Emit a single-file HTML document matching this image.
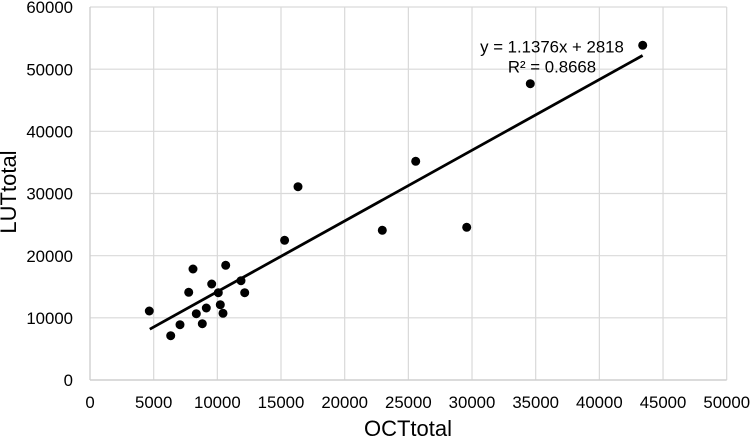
<!DOCTYPE html>
<html>
<head>
<meta charset="utf-8">
<style>
  html, body { margin: 0; padding: 0; background: #ffffff; }
  svg { display: block; }
  text { font-family: "Liberation Sans", Arial, sans-serif; fill: #000; }
</style>
</head>
<body>
<svg width="750" height="439" viewBox="0 0 750 439" xmlns="http://www.w3.org/2000/svg">
  <rect x="0" y="0" width="750" height="439" fill="#ffffff"/>
  <g stroke="#d9d9d9" stroke-width="1.2" fill="none">
    <line x1="153.67" y1="7" x2="153.67" y2="380"/>
    <line x1="217.34" y1="7" x2="217.34" y2="380"/>
    <line x1="281.01" y1="7" x2="281.01" y2="380"/>
    <line x1="344.68" y1="7" x2="344.68" y2="380"/>
    <line x1="408.35" y1="7" x2="408.35" y2="380"/>
    <line x1="472.02" y1="7" x2="472.02" y2="380"/>
    <line x1="535.69" y1="7" x2="535.69" y2="380"/>
    <line x1="599.36" y1="7" x2="599.36" y2="380"/>
    <line x1="663.03" y1="7" x2="663.03" y2="380"/>
    <line x1="726.7" y1="7" x2="726.7" y2="380"/>
    <line x1="90" y1="7" x2="726.7" y2="7"/>
    <line x1="90" y1="69.17" x2="726.7" y2="69.17"/>
    <line x1="90" y1="131.33" x2="726.7" y2="131.33"/>
    <line x1="90" y1="193.5" x2="726.7" y2="193.5"/>
    <line x1="90" y1="255.67" x2="726.7" y2="255.67"/>
    <line x1="90" y1="317.83" x2="726.7" y2="317.83"/>
  </g>
  <g stroke="#cfcfcf" stroke-width="1.4">
    <line x1="90" y1="7" x2="90" y2="380"/>
    <line x1="90" y1="380" x2="726.7" y2="380"/>
  </g>

  <g font-size="16.8" text-anchor="end">
    <text x="73" y="13.2">60000</text>
    <text x="73" y="75.4">50000</text>
    <text x="73" y="137.5">40000</text>
    <text x="73" y="199.7">30000</text>
    <text x="73" y="261.9">20000</text>
    <text x="73" y="324">10000</text>
    <text x="73" y="386.2">0</text>
  </g>
  <g font-size="16.8" text-anchor="middle">
    <text x="90" y="408">0</text>
    <text x="153.67" y="408">5000</text>
    <text x="217.34" y="408">10000</text>
    <text x="281.01" y="408">15000</text>
    <text x="344.68" y="408">20000</text>
    <text x="408.35" y="408">25000</text>
    <text x="472.02" y="408">30000</text>
    <text x="535.69" y="408">35000</text>
    <text x="599.36" y="408">40000</text>
    <text x="663.03" y="408">45000</text>
    <text x="726.7" y="408">50000</text>
  </g>

  <text x="408" y="436" font-size="22" text-anchor="middle">OCTtotal</text>
  <text transform="translate(16,192) rotate(-90)" x="0" y="0" font-size="22" text-anchor="middle">LUTtotal</text>

  <line x1="149.8" y1="329.2" x2="642.6" y2="55.5" stroke="#000" stroke-width="2.8"/>

  <g fill="#000">
    <circle cx="149.3" cy="311" r="4.5"/>
    <circle cx="170.7" cy="335.7" r="4.5"/>
    <circle cx="180" cy="324.7" r="4.5"/>
    <circle cx="193" cy="269" r="4.5"/>
    <circle cx="188.7" cy="292.3" r="4.5"/>
    <circle cx="196.3" cy="313.7" r="4.5"/>
    <circle cx="202.3" cy="323.7" r="4.5"/>
    <circle cx="206.3" cy="308" r="4.5"/>
    <circle cx="211.7" cy="284" r="4.5"/>
    <circle cx="218.3" cy="292.7" r="4.5"/>
    <circle cx="220.3" cy="304.7" r="4.5"/>
    <circle cx="223" cy="313.3" r="4.5"/>
    <circle cx="225.7" cy="265.3" r="4.5"/>
    <circle cx="241" cy="280.7" r="4.5"/>
    <circle cx="244.7" cy="292.7" r="4.5"/>
    <circle cx="284.6" cy="240.3" r="4.5"/>
    <circle cx="298" cy="186.7" r="4.5"/>
    <circle cx="382.3" cy="230.3" r="4.5"/>
    <circle cx="415.7" cy="161.3" r="4.5"/>
    <circle cx="466.7" cy="227.3" r="4.5"/>
    <circle cx="530.3" cy="83.7" r="4.5"/>
    <circle cx="642.7" cy="45.3" r="4.5"/>
  </g>

  <g font-size="16.8" text-anchor="middle">
    <text x="552" y="52.3">y = 1.1376x + 2818</text>
    <text x="552" y="72.7">R² = 0.8668</text>
  </g>
</svg>
</body>
</html>
